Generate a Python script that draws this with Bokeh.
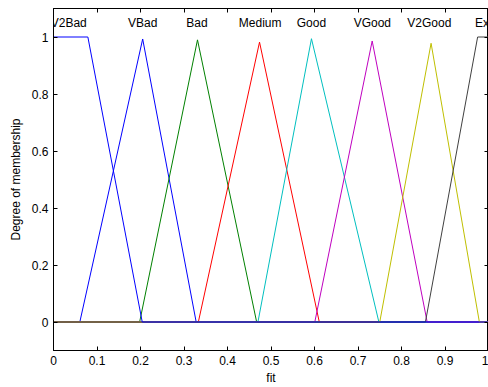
from bokeh.plotting import figure
from bokeh.models import LinearAxis, FixedTicker, Range1d, ColumnDataSource, LabelSet
from bokeh.core.properties import value
from bokeh.embed import file_html
from bokeh.resources import INLINE

# ---- data ----
x_ticks = [0, 0.1, 0.2, 0.3, 0.4, 0.5, 0.6, 0.7, 0.8, 0.9, 1]
x_tick_labels = ["0", "0.1", "0.2", "0.3", "0.4", "0.5", "0.6", "0.7", "0.8", "0.9", "1"]
y_ticks = [0, 0.2, 0.4, 0.6, 0.8, 1]
y_tick_labels = ["0", "0.2", "0.4", "0.6", "0.8", "1"]

mf_names = ["V2Bad", "VBad", "Bad", "Medium", "Good", "VGood", "V2Good", "Ex"]

v2bad_x = [0, 0.079, 0.204, 1]
v2bad_y = [1, 1, 0, 0]
vbad_x = [0, 0.0605, 0.205, 0.328, 1]
vbad_y = [0, 0, 0.993, 0, 0]
bad_x = [0, 0.198, 0.331, 0.467, 1]
bad_y = [0, 0, 0.99, 0, 0]
medium_x = [0, 0.333, 0.4736, 0.611, 1]
medium_y = [0, 0, 0.982, 0, 0]
good_x = [0, 0.47, 0.593, 0.748, 1]
good_y = [0, 0, 0.994, 0, 0]
vgood_x = [0, 0.6007, 0.7326, 0.859, 1]
vgood_y = [0, 0, 0.986, 0, 0]
v2good_x = [0, 0.75, 0.868, 0.979, 1]
v2good_y = [0, 0, 0.978, 0, 0]
ex_x = [0, 0.855, 0.975, 1]
ex_y = [0, 0, 1, 1]

label_x = [0.035, 0.205, 0.33, 0.475, 0.593, 0.733, 0.864, 0.985]
label_y = [1.05, 1.05, 1.05, 1.05, 1.05, 1.05, 1.05, 1.05]

FONT = "Liberation Sans"

p = figure(width=488, height=387, output_backend="svg", toolbar_location=None,
           x_range=Range1d(0, 1), y_range=Range1d(-0.1, 1.1),
           min_border_left=53, min_border_right=0, min_border_top=8, min_border_bottom=36)
p.background_fill_color = "white"
p.border_fill_color = "white"
p.outline_line_color = "black"
p.outline_line_width = 1
p.grid.visible = False

def style_axis(ax, ticks, labels, show_labels=True):
    ax.ticker = FixedTicker(ticks=ticks)
    ax.major_label_overrides = {t: l for t, l in zip(ticks, labels)}
    ax.major_tick_in = 4
    ax.major_tick_out = 0
    ax.minor_tick_in = 0
    ax.minor_tick_out = 0
    ax.axis_line_color = "black"
    ax.major_tick_line_color = "black"
    ax.major_label_text_font = FONT
    ax.major_label_text_color = "black"
    ax.axis_label_text_font = FONT
    ax.axis_label_text_font_style = "normal"
    ax.axis_label_text_font_size = "12px"
    ax.axis_label_text_color = "black"
    if show_labels:
        ax.major_label_text_font_size = "12px"
    else:
        ax.major_label_text_font_size = "0px"
        ax.major_label_standoff = 0

xa = p.xaxis[0]
style_axis(xa, x_ticks, x_tick_labels)
xa.axis_label = "fit"
xa.major_label_standoff = 5
xa.axis_label_standoff = 3

ya = p.yaxis[0]
style_axis(ya, y_ticks, y_tick_labels)
ya.axis_label = "Degree of membership"
ya.major_label_standoff = 5
ya.axis_label_standoff = 6

top = LinearAxis()
style_axis(top, x_ticks, ["" for _ in x_ticks], show_labels=False)
p.add_layout(top, "above")
right = LinearAxis()
style_axis(right, y_ticks, ["" for _ in y_ticks], show_labels=False)
p.add_layout(right, "right")

series = [
    (vbad_x, vbad_y, "#0000ff"),
    (bad_x, bad_y, "#008000"),
    (medium_x, medium_y, "#ff0000"),
    (good_x, good_y, "#00bfbf"),
    (vgood_x, vgood_y, "#bf00bf"),
    (v2good_x, v2good_y, "#bfbf00"),
    (ex_x, ex_y, "#404040"),
    (v2bad_x, v2bad_y, "#0000ff"),
]
for xs, ys, c in series:
    p.line(xs, ys, line_color=c, line_width=1)

src = ColumnDataSource(dict(x=label_x, y=label_y, t=mf_names))
labels = LabelSet(x="x", y="y", text="t", source=src, text_font=value(FONT),
                  text_font_size="12px", text_align="center", text_baseline="middle",
                  text_color="black")
p.add_layout(labels)

open("out.html", "w").write(file_html(p, INLINE))
